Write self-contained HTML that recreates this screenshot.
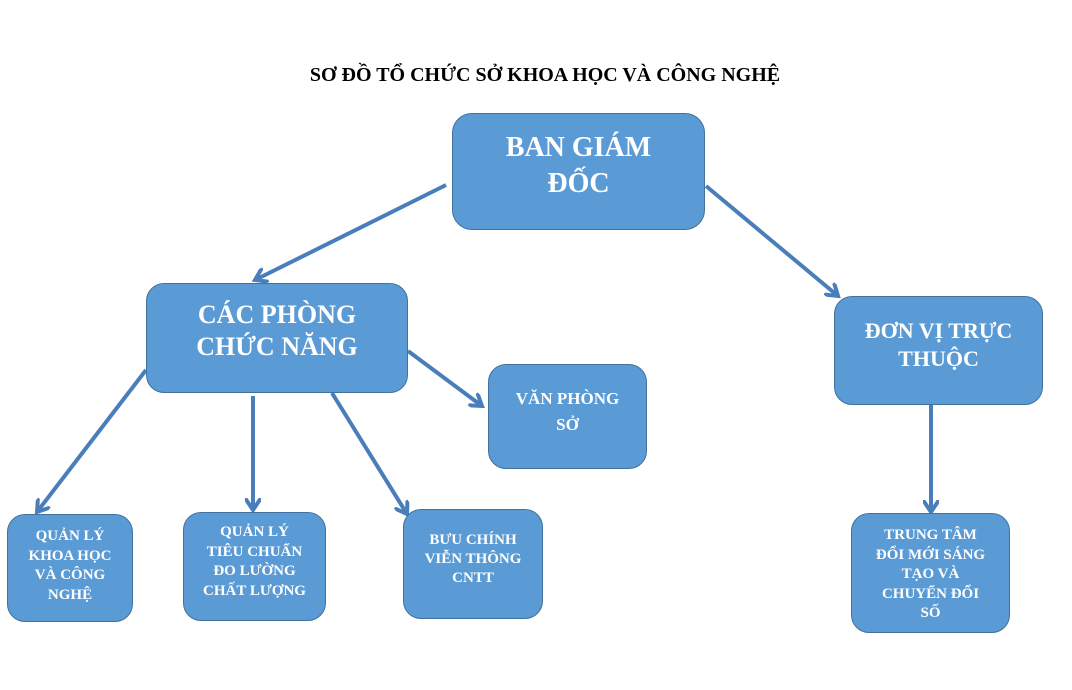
<!DOCTYPE html>
<html><head><meta charset="utf-8"><style>
html,body{margin:0;padding:0;background:#fff;}
body{width:1072px;height:690px;position:relative;overflow:hidden;font-family:"Liberation Serif","Noto Serif CJK SC",serif;}
.t{position:absolute;left:0;width:1090px;top:64px;text-align:center;font-weight:bold;font-size:20px;color:#000;white-space:nowrap;}
.b{position:absolute;box-sizing:border-box;background:#5b9bd5;border:1px solid #41719c;border-radius:18px;color:#fff;font-weight:bold;text-align:center;}
svg{position:absolute;left:0;top:0;}
</style></head><body>
<div class="t">SƠ ĐỒ TỔ CHỨC SỞ KHOA HỌC VÀ CÔNG NGHỆ</div>
<svg width="1072" height="690">
<defs><marker id="a" markerWidth="4" markerHeight="4" refX="3" refY="2" orient="auto" markerUnits="strokeWidth"><path d="M0,0 L3,2 L0,4" fill="none" stroke="#4a7ebb" stroke-width="1"/></marker></defs>
<g stroke="#4a7ebb" stroke-width="4" fill="none" marker-end="url(#a)">
<line x1="446" y1="185" x2="255" y2="280"/>
<line x1="706" y1="186" x2="838" y2="296"/>
<line x1="146" y1="370" x2="37" y2="512"/>
<line x1="253" y1="396" x2="253" y2="510"/>
<line x1="332" y1="393" x2="407" y2="514"/>
<line x1="408" y1="351" x2="482" y2="406"/>
<line x1="931" y1="405" x2="931" y2="512"/>
</g>
</svg>
<div class="b" style="left:452px;top:113px;width:253px;height:117px;font-size:28px;line-height:36px;padding-top:16px;border-radius:20px;">BAN GIÁM<br>ĐỐC</div>
<div class="b" style="left:146px;top:283px;width:262px;height:110px;font-size:26px;line-height:32px;padding-top:15px;">CÁC PHÒNG<br>CHỨC NĂNG</div>
<div class="b" style="left:488px;top:364px;width:159px;height:105px;font-size:17px;line-height:26px;padding-top:21px;">VĂN PHÒNG<br>SỞ</div>
<div class="b" style="left:834px;top:296px;width:209px;height:109px;font-size:22px;line-height:28px;padding-top:20px;">ĐƠN VỊ TRỰC<br>THUỘC</div>
<div class="b" style="left:7px;top:514px;width:126px;height:108px;font-size:15px;line-height:19.5px;padding-top:12px;">QUẢN LÝ<br>KHOA HỌC<br>VÀ CÔNG<br>NGHỆ</div>
<div class="b" style="left:183px;top:512px;width:143px;height:109px;font-size:15px;line-height:19.5px;padding-top:10px;">QUẢN LÝ<br>TIÊU CHUẨN<br>ĐO LƯỜNG<br>CHẤT LƯỢNG</div>
<div class="b" style="left:403px;top:509px;width:140px;height:110px;font-size:15px;line-height:19px;padding-top:21px;">BƯU CHÍNH<br>VIỄN THÔNG<br>CNTT</div>
<div class="b" style="left:851px;top:513px;width:159px;height:120px;font-size:15px;line-height:19.5px;padding-top:12px;">TRUNG TÂM<br>ĐỔI MỚI SÁNG<br>TẠO VÀ<br>CHUYỂN ĐỔI<br>SỐ</div>
</body></html>
